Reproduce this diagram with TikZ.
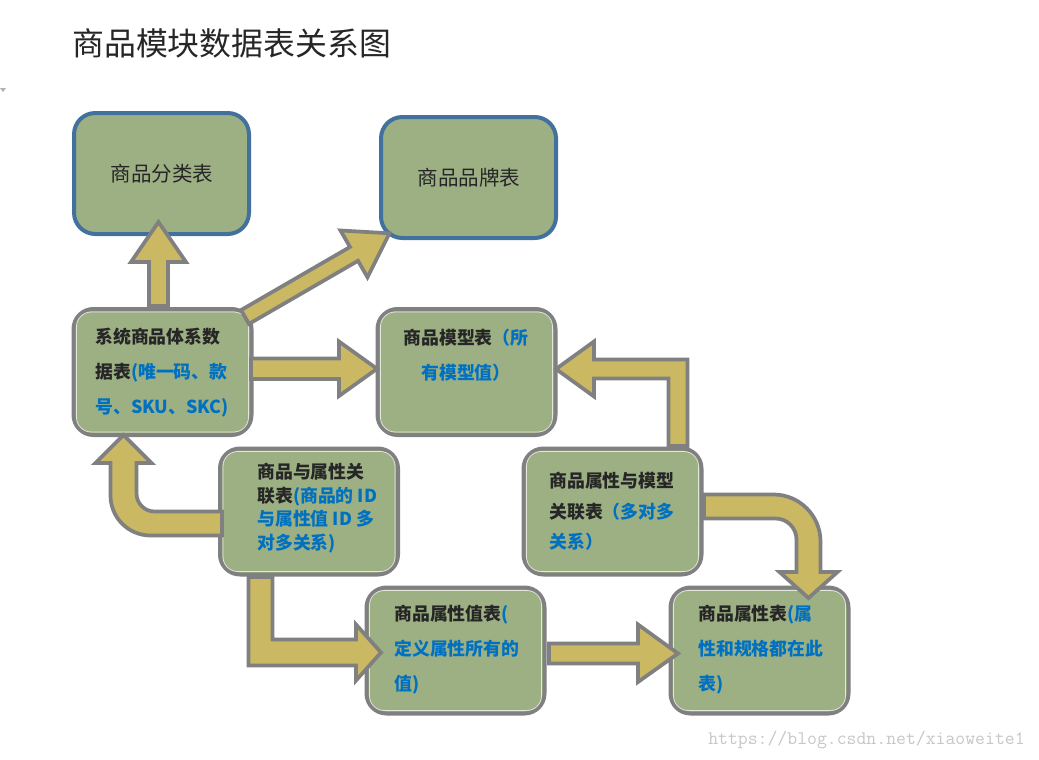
\documentclass[tikz,border=0pt]{standalone}
\usepackage{fontspec}
\newfontfamily\cjk{Noto Sans CJK SC}
\usetikzlibrary{calc}
\definecolor{boxfill}{HTML}{9DB084}
\definecolor{blueline}{HTML}{41719C}
\definecolor{grayline}{HTML}{808080}
\definecolor{arrowfill}{HTML}{CBB863}
\definecolor{bluetext}{HTML}{0070C0}
\definecolor{darktext}{HTML}{262626}
\newcommand{\bluetxt}[1]{\textcolor{bluetext}{#1}}
\tikzset{
  bluebox/.style={draw=blueline, line width=3pt, fill=boxfill, rounded corners=16pt,
    minimum width=131.25pt, minimum height=90.75pt, inner sep=0pt},
  graybox/.style={draw=grayline, line width=3pt, fill=boxfill, rounded corners=15pt,
    minimum width=133.5pt, minimum height=94.5pt, inner sep=0pt},
  hl/.style={draw=white, opacity=0.7, line width=0.6pt, rounded corners=11pt},
  blockarrow/.style={fill=arrowfill, draw=grayline, line width=2.8pt, line join=miter},
  toptext/.style={font=\cjk\fontsize{15.4pt}{18pt}\selectfont, text=darktext, inner sep=0pt},
  boxtext/.style={font=\cjk\bfseries\fontsize{13.4pt}{26.25pt}\selectfont, text=darktext,
    align=left, inner sep=0pt},
}
\begin{document}
\begin{tikzpicture}[x=0.75pt,y=-0.75pt]
\fill[white] (0,0) rectangle (1039,760);
\useasboundingbox (0,0) rectangle (1039,760);

% title and marks
\node[anchor=west, font=\cjk\fontsize{23.9pt}{28pt}\selectfont, text=darktext, inner sep=0pt]
  (title) at (72,43) {商品模块数据表关系图};
\fill[gray!60] (0,88) -- (6,88) -- (3,92) -- cycle;
\node[anchor=west, font=\ttfamily\fontsize{14.4pt}{16pt}\selectfont, text=black!22, inner sep=0pt]
  (wm) at (708,740) {https://blog.csdn.net/xiaoweite1};

% boxes
\node[bluebox] (b1) at (161.5,173.5) {};
\node[bluebox] (b2) at (468.5,177.5) {};
\node[graybox] (b3) at (162.5,372) {};
\node[graybox] (b4) at (466.5,372) {};
\node[graybox] (b5) at (309,511.5) {};
\node[graybox] (b6) at (612.5,511.5) {};
\node[graybox] (b7) at (455.5,650.5) {};
\node[graybox] (b8) at (759.5,650.5) {};
\foreach \b in {b3,b4,b5,b6,b7,b8}
  \draw[hl] ($(\b.south west)+(5,-5)$) rectangle ($(\b.north east)+(-5,5)$);

% texts
\node[toptext] (t1) at (162,174) {商品分类表};
\node[toptext] (t2) at (469,178) {商品品牌表};
\node[boxtext, anchor=west] (t3) at (95,373)
  {系统商品体系数\\据表\bluetxt{(唯一码、款}\\\bluetxt{号、SKU、SKC)}};
\node[boxtext, align=center, anchor=center] (t4) at (466,355.5)
  {商品模型表\bluetxt{（所}\\\bluetxt{有模型值）}};
\node[boxtext, anchor=west, font=\cjk\bfseries\fontsize{13.4pt}{17.6pt}\selectfont] (t5) at (257,508)
  {商品与属性关\\联表\bluetxt{(商品的 ID}\\\bluetxt{与属性值 ID 多}\\\bluetxt{对多关系)}};
\node[boxtext, anchor=west, font=\cjk\bfseries\fontsize{13.4pt}{22.9pt}\selectfont] (t6) at (549,511.5)
  {商品属性与模型\\关联表\bluetxt{（多对多}\\\bluetxt{关系）}};
\node[boxtext, anchor=west] (t7) at (394,650)
  {商品属性值表\bluetxt{(}\\\bluetxt{定义属性所有的}\\\bluetxt{值)}};
\node[boxtext, anchor=west] (t8) at (698,650)
  {商品属性表\bluetxt{(属}\\\bluetxt{性和规格都在此}\\\bluetxt{表)}};

% block arrows
% b3 -> b1 (up)
\draw[blockarrow] (149,306) -- (149,262) -- (131,262) -- (158.5,222) -- (186,262)
  -- (168,262) -- (168,306) -- cycle;
% b3 -> b2 (diagonal)
\draw[blockarrow] (241,310.1) -- (350,247) -- (340.5,230.5) -- (389.5,233.3)
  -- (367.5,277.3) -- (358,260.8) -- (249,323.9) -- cycle;
% b3 -> b4 (right)
\draw[blockarrow] (251,358.5) -- (339,358.5) -- (339,341.5) -- (377,368.75)
  -- (339,396) -- (339,379) -- (251,379) -- cycle;
% b5 -> b3 (u-turn)
\draw[blockarrow] (222,511.5) -- (154.5,511.5)
  .. controls (144.6,511.5) and (136.5,503.4) .. (136.5,493.5)
  -- (136.5,463) -- (151.5,463) -- (123.5,435) -- (95.5,463) -- (110.5,463)
  -- (110.5,495.5) .. controls (110.5,517.6) and (128.4,535.5) .. (150.5,535.5)
  -- (222,535.5) -- cycle;
% b6 -> b4 (bent)
\draw[blockarrow] (668.5,446) -- (668.5,378.5) -- (594,378.5) -- (594,396.5)
  -- (556,369) -- (594,341.5) -- (594,359.5) -- (687.5,359.5) -- (687.5,446) -- cycle;
% b6 -> b8 (curved)
\draw[blockarrow] (704,494.5) -- (773.5,494.5)
  .. controls (799.4,494.5) and (820.5,515.6) .. (820.5,541.5)
  -- (820.5,572) -- (837.5,572) -- (808.5,598) -- (779.5,572) -- (796.5,572)
  -- (796.5,539.5) .. controls (796.5,527.9) and (787.1,518.5) .. (775.5,518.5)
  -- (704,518.5) -- cycle;
% b5 -> b7 (L shape)
\draw[blockarrow] (272.5,577) -- (272.5,639.5) -- (356,639.5) -- (356,624.5)
  -- (381,652.5) -- (356,680.5) -- (356,665.5) -- (248.5,665.5) -- (248.5,577) -- cycle;
% b7 -> b8 (right)
\draw[blockarrow] (549,643.5) -- (638,643.5) -- (638,624.5) -- (678,653.5)
  -- (638,682) -- (638,663.5) -- (549,663.5) -- cycle;
\end{tikzpicture}
\end{document}
